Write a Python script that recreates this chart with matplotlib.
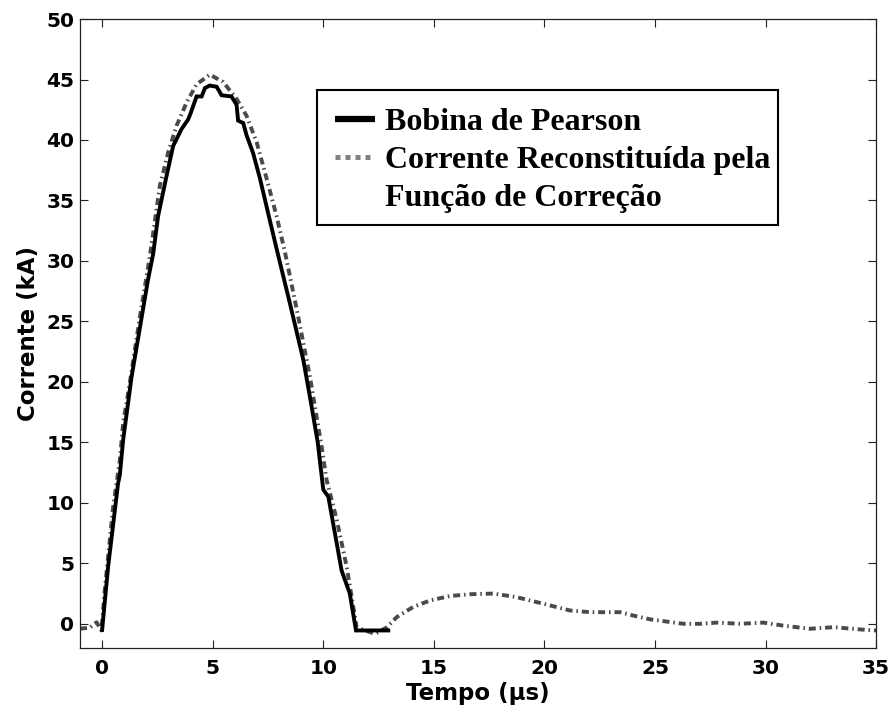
import matplotlib
matplotlib.use("Agg")
import matplotlib.pyplot as plt
from matplotlib.lines import Line2D
from matplotlib.patches import Rectangle

# Pearson coil measurement (time in microseconds, current in kA)
pearson_t = [0.00, 0.27, 0.72, 0.80, 0.95, 1.33, 2.08, 2.31, 2.53, 2.91, 3.21,
             3.59, 3.89, 4.00, 4.27, 4.50, 4.65, 4.87, 5.18, 5.40, 5.85, 6.08,
             6.15, 6.38, 6.53, 6.83, 7.14, 7.50, 7.89, 8.49, 9.10, 9.47, 9.75,
             10.00, 10.23, 10.83, 11.20, 11.48, 12.94]
pearson_i = [-0.5, 4.7, 11.6, 12.3, 15.2, 20.4, 28.5, 30.6, 33.7, 37.0, 39.5,
             40.9, 41.7, 42.2, 43.6, 43.6, 44.3, 44.5, 44.4, 43.7, 43.6, 42.9,
             41.6, 41.4, 40.4, 38.9, 36.8, 34.0, 31.0, 26.5, 21.8, 18.0, 15.0,
             11.1, 10.5, 4.4, 2.5, -0.55, -0.55]

# Current reconstructed by the correction function
recon_t = [-1.00, -0.56, -0.25, -0.03, 0.12, 0.50, 0.80, 0.95, 1.25, 1.71, 2.16,
           2.61, 2.99, 3.37, 3.82, 4.27, 4.87, 5.47, 6.08, 6.53, 6.99, 7.44,
           7.89, 8.27, 8.80, 9.40, 9.93, 10.15, 10.61, 11.06, 11.51, 12.34,
           12.87, 13.32, 14.07, 14.83, 15.73, 16.70, 17.70, 18.75, 19.95, 21.16,
           22.07, 23.42, 24.00, 24.78, 26.29, 27.05, 27.80, 28.85, 29.90, 30.80,
           32.00, 33.10, 34.30, 35.00]
recon_i = [-0.4, -0.33, 0.13, -0.55, 2.8, 9.7, 13.5, 16.6, 19.9, 25.4, 30.4,
           36.2, 39.0, 41.2, 43.1, 44.6, 45.4, 44.8, 43.4, 42.0, 39.8, 36.8,
           33.7, 30.7, 26.0, 20.4, 14.6, 11.9, 8.6, 4.7, -0.3, -0.83,
           -0.3, 0.55, 1.4, 1.93, 2.3, 2.45, 2.5, 2.2, 1.66, 1.1,
           0.96, 0.96, 0.69, 0.37, 0.0, 0.0, 0.1, 0.0, 0.1, -0.15,
           -0.41, -0.28, -0.47, -0.55]

x_ticks = [0, 5, 10, 15, 20, 25, 30, 35]
y_ticks = [0, 5, 10, 15, 20, 25, 30, 35, 40, 45, 50]

legend_labels = ["Bobina de Pearson", "Corrente Reconstituída pela",
                 "Função de Correção"]

fig = plt.figure(figsize=(8.94, 7.18), dpi=100)
ax = fig.add_axes([0.0895, 0.0975, 0.8905, 0.876])

gray_line, = ax.plot(recon_t, recon_i, color="#4a4a4a", lw=2.8,
                     solid_capstyle="butt")
gray_line.set_dashes([1.8, 1.0, 0.4, 1.0])
ax.plot(pearson_t, pearson_i, color="black", lw=2.8, solid_joinstyle="miter")

ax.set_xlim(-1, 35)
ax.set_ylim(-2, 50)
ax.set_xticks(x_ticks)
ax.set_yticks(y_ticks)

for s in ax.spines.values():
    s.set_linewidth(0.9)
    s.set_color("#222222")

ax.tick_params(direction="in", length=6, width=0.8, colors="#222222",
               top=True, right=True, labelcolor="black")
ax.tick_params(axis="x", pad=8)
ax.tick_params(axis="y", pad=4)
for lab in ax.get_xticklabels() + ax.get_yticklabels():
    lab.set_fontfamily("DejaVu Sans")
    lab.set_fontweight("bold")
    lab.set_fontsize(14.5)

ax.set_xlabel("Tempo (\u00b5s)", fontsize=16.5, fontweight="bold",
              family="DejaVu Sans", labelpad=3)
ax.set_ylabel("Corrente (kA)", fontsize=16.5, fontweight="bold",
              family="DejaVu Sans", labelpad=5)

# Legend frame drawn as its own box
ax.add_patch(Rectangle((0.2977, 0.6725), 0.5792, 0.2146,
                       transform=ax.transAxes, facecolor="white",
                       edgecolor="black", lw=1.5, zorder=4))

h1 = Line2D([], [], color="black", lw=4.5, solid_capstyle="butt")
h2 = Line2D([], [], color="#808080", lw=3.6, dash_capstyle="butt")
h2.set_dashes([1, 1])
h3 = Line2D([], [], color="none")

leg = ax.legend([h1, h2, h3], legend_labels,
                loc="upper left", bbox_to_anchor=(0.3204, 0.8585),
                borderaxespad=0, borderpad=0, frameon=False,
                prop={"family": "Liberation Serif", "weight": "bold", "size": 23},
                handlelength=1.25, handletextpad=0.31, labelspacing=0.26)
leg.set_zorder(5)

fig.savefig("out.png", dpi=100)
